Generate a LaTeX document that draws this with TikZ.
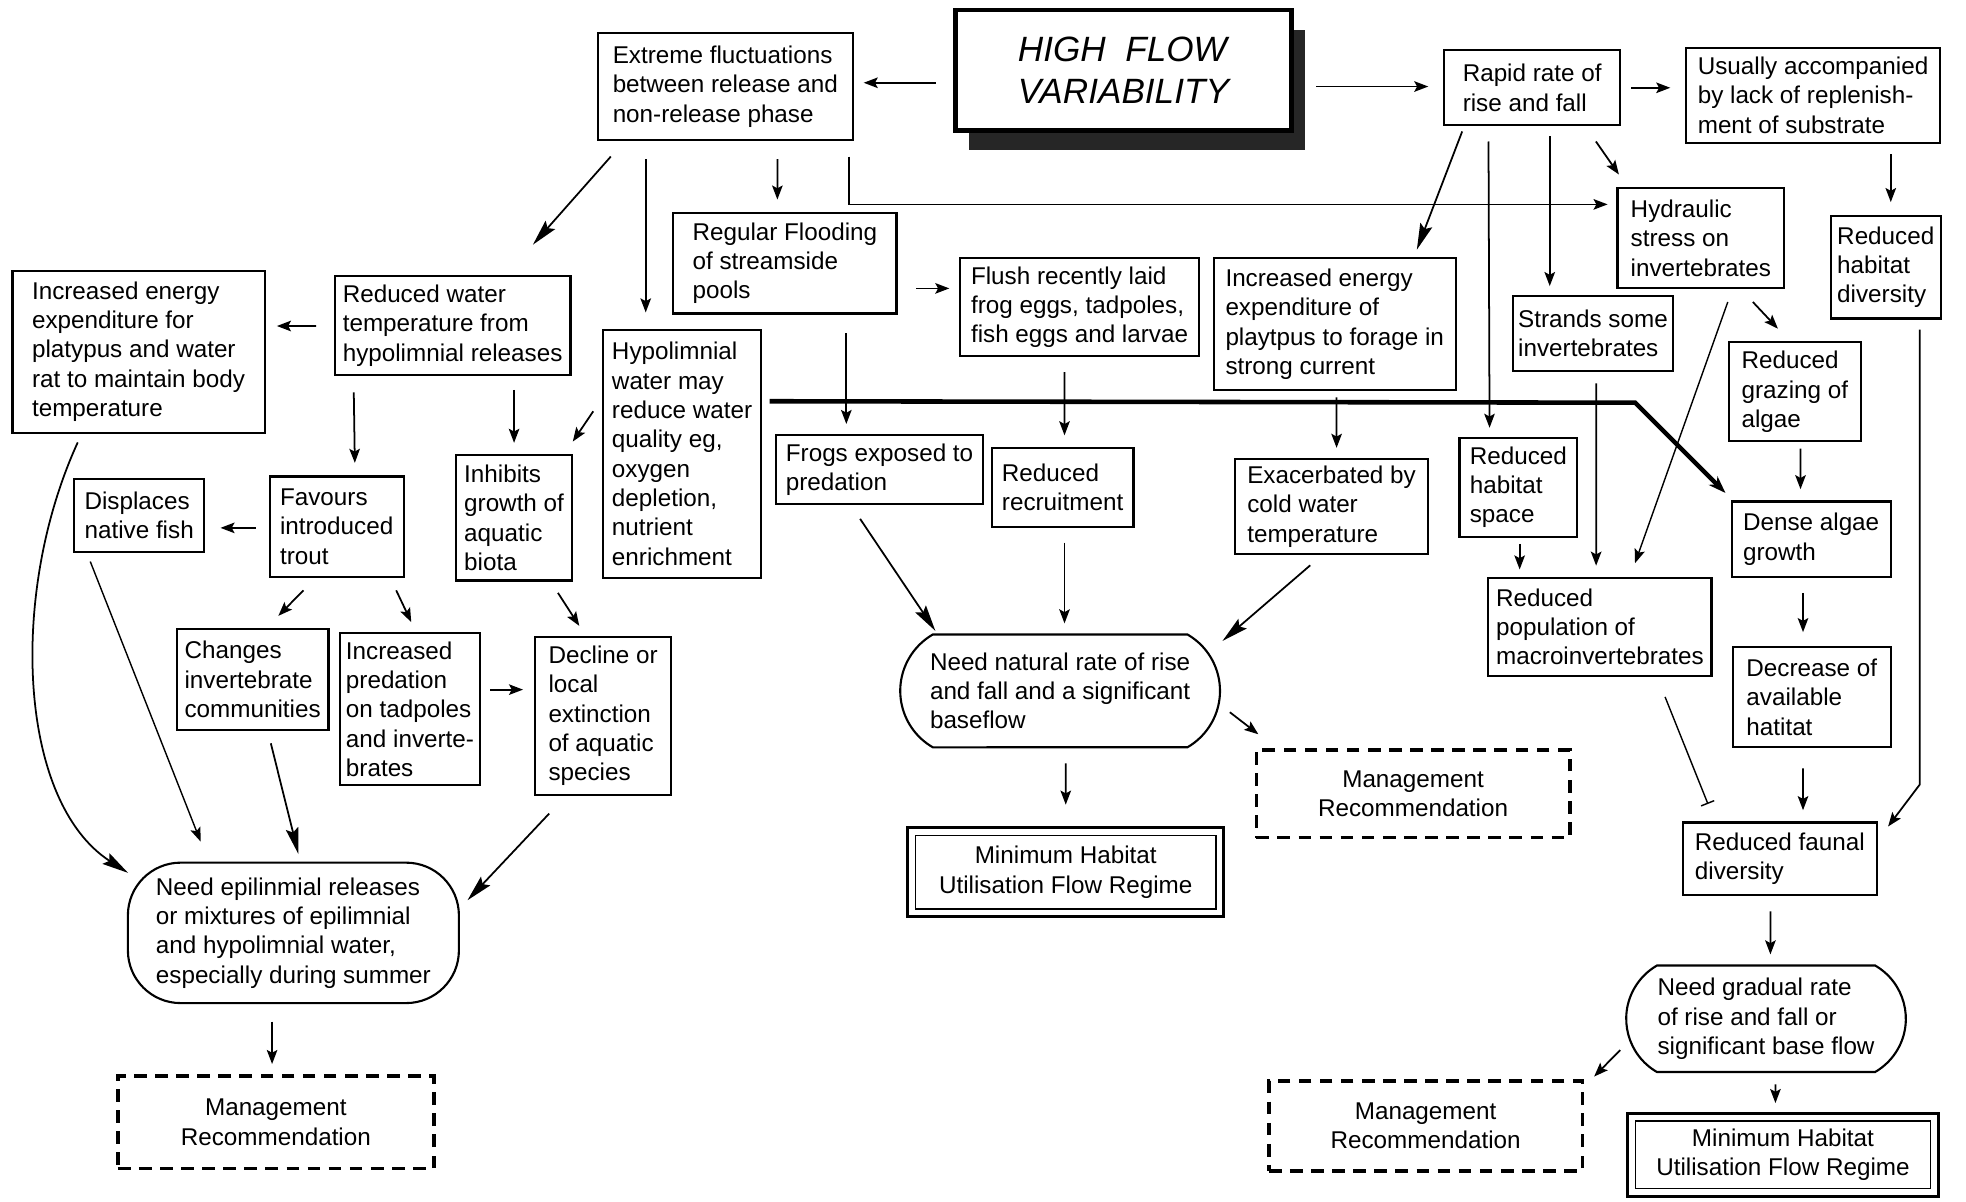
\documentclass[tikz,border=0pt]{standalone}
\usepackage{fontspec}
\setmainfont{Liberation Sans}
\usetikzlibrary{arrows.meta,calc,shapes.misc,shadows}

\tikzset{
  wh/.style 2 args={minimum width=#1*0.12538mm, minimum height=#2*0.12538mm},
  box/.style={draw, line width=0.6pt, fill=white, inner sep=0pt, align=left,
    font=\fontsize{6.9}{8.35}\selectfont},
  need/.style={box, rounded rectangle, rounded rectangle arc length=120},
  mgmt/.style={draw, line width=1pt, dash pattern=on 3.6pt off 2.4pt, inner sep=0pt,
    align=center, font=\fontsize{6.9}{8.35}\selectfont},
  regime/.style={draw, line width=0.9pt, inner sep=0pt, align=center,
    font=\fontsize{6.9}{8.35}\selectfont,
    path picture={\draw[line width=0.4pt]
      ([shift={(2.2pt,-2.2pt)}]path picture bounding box.north west) rectangle
      ([shift={(-2.2pt,2.2pt)}]path picture bounding box.south east);}},
  link/.style={line width=0.5pt, -{Stealth[length=4pt,width=3pt,inset=0.8pt]}},
  big/.style={-{Stealth[length=7.5pt,width=3.6pt,inset=1.2pt]}},
  heavy/.style={line width=1.3pt, -{Stealth[length=5pt,width=3.5pt]}},
}

\begin{document}
\begin{tikzpicture}[x=0.12538mm, y=-0.12538mm]
  \useasboundingbox (0,0) rectangle (1568,958);

  \node[box, wh={268}{96}, line width=1.2pt,
    drop shadow={shadow xshift=3.9pt, shadow yshift=-5.7pt, fill=black!85, opacity=1},
    font=\fontsize{10}{12.2}\selectfont\itshape] (title) at (896,56) {HIGH\ \ FLOW\\VARIABILITY};

  \node[box, wh={203}{86}] (ext) at (578.5,69) {Extreme fluctuations\\between release and\\non-release phase};
  \node[box, wh={140}{60}] (rapid) at (1222,70) {Rapid rate of\\rise and fall};
  \node[box, wh={202}{76}] (usual) at (1446,76) {Usually accompanied\\by lack of replenish-\\ment of substrate};
  \node[box, wh={178}{80}] (flood) at (626,210) {Regular Flooding\\of streamside\\pools};
  \node[box, wh={133}{80}] (hydr) at (1356.5,190) {Hydraulic\\stress on\\invertebrates};
  \node[box, wh={88}{82}] (rhd) at (1504,213) {Reduced\\habitat\\diversity};
  \node[box, wh={201}{129}] (ieleft) at (110.5,280.5) {Increased energy\\expenditure for\\platypus and water\\rat to maintain body\\temperature};
  \node[box, wh={188}{79}] (rwt) at (361,259.5) {Reduced water\\temperature from\\hypolimnial releases};
  \node[box, wh={126}{198}] (hypo) at (544,362) {Hypolimnial\\water may\\reduce water\\quality eg,\\oxygen\\depletion,\\nutrient\\enrichment};
  \node[box, wh={190}{78}] (flush) at (861,245) {Flush recently laid\\frog eggs, tadpoles,\\fish eggs and larvae};
  \node[box, wh={193}{105}] (iemid) at (1064.5,258.5) {Increased energy\\expenditure of\\playtpus to forage in\\strong current};
  \node[box, wh={127}{60}] (strands) at (1270.5,266) {Strands some\\invertebrates};
  \node[box, wh={105}{79}] (graz) at (1431.5,312.5) {Reduced\\grazing of\\algae};
  \node[box, wh={104}{58}] (displ) at (111,411) {Displaces\\native fish};
  \node[box, wh={107}{80}] (favours) at (268.5,420) {Favours\\introduced\\trout};
  \node[box, wh={92}{100}] (inhib) at (410,413) {Inhibits\\growth of\\aquatic\\biota};
  \node[box, wh={165}{55}] (frogs) at (701.5,374.5) {Frogs exposed to\\predation};
  \node[box, wh={113}{63}] (recr) at (847.5,388.5) {Reduced\\recruitment};
  \node[box, wh={154}{76}] (exac) at (1062,404) {Exacerbated by\\cold water\\temperature};
  \node[box, wh={94}{79}] (rhs) at (1211,388.5) {Reduced\\habitat\\space};
  \node[box, wh={127}{60}] (dense) at (1444.5,430) {Dense algae\\growth};
  \node[box, wh={178}{78}] (rpop) at (1276,500) {Reduced\\population of\\macroinvertebrates};
  \node[box, wh={121}{80}] (changes) at (201.5,542) {Changes\\invertebrate\\communities};
  \node[box, wh={112}{121}] (pred) at (327,565.5) {Increased\\predation\\on tadpoles\\and inverte-\\brates};
  \node[box, wh={108}{126}] (decline) at (481,571) {Decline or\\local\\extinction\\of aquatic\\species};
  \node[box, wh={126}{80}] (decr) at (1445,556) {Decrease of\\available\\hatitat};
  \node[box, wh={155}{58}] (faunal) at (1419.5,685) {Reduced faunal\\diversity};

  \node[need, wh={255}{90}] (neednat) at (845.5,551) {Need natural rate of rise\\and fall and a significant\\baseflow};
  \node[box, rounded corners=15pt, wh={264}{112}] (needepi) at (234,744) {Need epilinmial releases\\or mixtures of epilimnial\\and hypolimnial water,\\especially during summer};
  \node[need, wh={223}{85}] (needgrad) at (1408.5,812.5) {Need gradual rate\\of rise and fall or\\significant base flow};

  \node[mgmt, wh={250}{70}] (mgmtmid) at (1127,633) {Management\\Recommendation};
  \node[mgmt, wh={252}{74}] (mgmtl) at (220,895) {Management\\Recommendation};
  \node[mgmt, wh={250}{72}] (mgmtr) at (1137,898) {Management\\Recommendation};
  \node[regime, wh={252}{71}] (mhmid) at (850,695.5) {Minimum Habitat\\Utilisation Flow Regime};
  \node[regime, wh={248}{66}] (mhr) at (1422,921) {Minimum Habitat\\Utilisation Flow Regime};

  \begin{scope}[link]
    \draw ($(title.west)+(-14,10)$) -- ($(ext.east)+(8,-3)$);
    \draw ($(title.east)+(18,13)$) -- ($(rapid.west)+(-12,-1)$);
    \draw ($(rapid.east)+(8,0)$) -- ($(usual.west)+(-12,-6)$);
    \draw ($(usual.south)+(62,8)$) -- ($(rhd.north)+(4,-10)$);
    \draw[big] ($(ext.south west)+(11,12)$) -- ($(rwt.north)+(64,-24)$);
    \draw ($(ext.south)+(-63.5,14)$) -- ($(hypo.north)+(-29,-13)$);
    \draw ($(ext.south)+(41.5,14)$) -- ($(flood.north)+(-6,-10)$);
    \draw ($(ext.south east)+(-4,12)$) |- ($(hydr.west)+(-7,-27)$);
    \draw[big] ($(rapid.south west)+(15,4)$) -- ($(iemid.north)+(65.5,-6)$);
    \draw ($(rapid.south west)+(36,12)$) -- ($(rhs.north)+(-23,-7)$);
    \draw ($(rapid.south)+(14,8)$) -- ($(strands.north)+(-34.5,-7)$);
    \draw ($(rapid.south east)+(-20,12)$) -- ($(hydr.north west)+(2,-10)$);
    \draw ($(hydr.south)+(41.5,10)$) -- ($(graz.north)+(-13.5,-10)$);
    \draw[thin] ($(hydr.south)+(21.5,10)$) -- ($(rpop.north)+(28,-11)$);
    \draw ($(strands.south)+(2.5,9)$) -- ($(rpop.north)+(-3,-9)$);
    \draw ($(rhs.south)+(1,5)$) -- ($(rpop.north)+(-64,-6)$);
    \draw ($(graz.south)+(4.5,5)$) -- ($(dense.north)+(-8.5,-9)$);
    \draw ($(dense.south)+(-6.5,12)$) -- ($(decr.north)+(-7,-11)$);
    \draw ($(decr.south)+(-7,16)$) -- ($(faunal.north)+(18.5,-9)$);
    \draw ($(rhd.south)+(27,8)$) -- ++(0,363) -- ($(faunal.north east)+(8,4)$);
    \draw[thin, -{Bar[width=4pt]}] ($(rpop.south)+(52,16)$) -- ($(faunal.north west)+(21,-14)$);
    \draw ($(faunal.south)+(-7.5,12)$) -- ($(needgrad.north)+(3.5,-8)$);
    \draw ($(needgrad.west)+(-4,25)$) -- ($(mgmtr.north east)+(8,-2)$);
    \draw ($(needgrad.south)+(7.5,9)$) -- ($(mhr.north)+(-6,-7)$);
    \draw ($(flood.east)+(15,20)$) -- ($(flush.west)+(-8,-15)$);
    \draw ($(flood.south)+(49,15)$) -- ($(frogs.north)+(-26.5,-8)$);
    \draw ($(flush.south)+(-12,12)$) -- ($(recr.north)+(1.5,-9)$);
    \draw ($(iemid.south)+(1.5,5)$) -- ($(exac.north)+(4,-8)$);
    \draw[big] ($(frogs.south)+(-15.5,11)$) -- ($(neednat.north)+(-99.5,-2)$);
    \draw ($(recr.south)+(1.5,12)$) -- ($(neednat.north)+(3.5,-8)$);
    \draw[big] ($(exac.south)+(-17,8)$) -- ($(neednat.north)+(129.5,6)$);
    \draw ($(neednat.east)+(7,17)$) -- ($(mgmtmid.north west)+(3,-11)$);
    \draw ($(neednat.south)+(4.5,12)$) -- ($(mhmid.north)+(0,-17)$);
    \draw ($(rwt.west)+(-14,0.5)$) -- ($(ieleft.east)+(9,-20.5)$);
    \draw ($(rwt.south west)+(16,13)$) -- ($(favours.north)+(14.5,-10)$);
    \draw ($(rwt.south)+(49,11)$) -- ($(inhib.north)+(0,-9)$);
    \draw ($(hypo.west)+(-7,-34)$) -- ($(inhib.north east)+(0,-10)$);
    \draw ($(favours.west)+(-10,1)$) -- ($(displ.east)+(12,10)$);
    \draw ($(favours.south)+(-26.5,10)$) -- ($(changes.north)+(20.5,-10)$);
    \draw ($(favours.south)+(47.5,10)$) -- ($(pred.north)+(1,-8)$);
    \draw ($(inhib.south)+(35,9)$) -- ($(decline.north)+(-19,-8)$);
    \draw ($(pred.east)+(7,-15.5)$) -- ($(decline.west)+(-9,-21)$);
    \draw[big] ($(ieleft.south)+(-48.5,7)$) .. controls +(-55,120) and +(-88,-57) .. ($(needepi.north west)+(1,9)$);
    \draw[thin] ($(displ.south)+(-39,7)$) -- ($(needepi.north)+(-74,-16)$);
    \draw[big] ($(changes.south)+(14.5,10)$) -- ($(needepi.north)+(4,-6)$);
    \draw[big] ($(decline.south)+(-43,14)$) -- ($(needepi.east)+(6,-26)$);
    \draw ($(needepi.south)+(-17,14)$) -- ($(mgmtl.north)+(-3,-8)$);
  \end{scope}

  \draw[heavy] ($(hypo.east)+(6,-42)$) -- ($(dense.north west)+(-76,-78)$) -- ($(dense.north west)+(-4,-6)$);
\end{tikzpicture}
\end{document}
